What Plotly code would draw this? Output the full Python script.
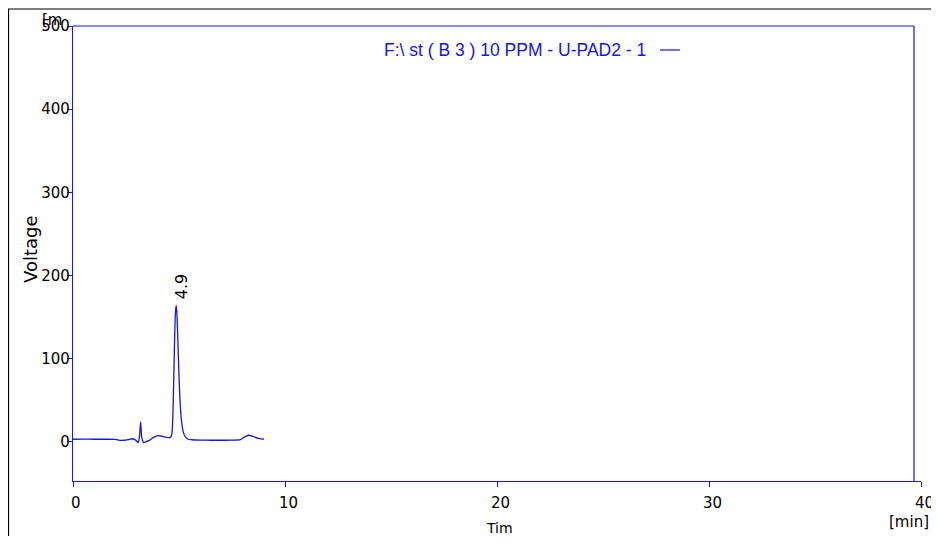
import plotly.graph_objects as go

# Chromatogram trace (time in min, voltage in mV)
time_min = [0.0, 0.5, 1.0, 1.5, 2.0, 2.2, 2.4, 2.6, 2.77, 2.9, 3.0, 3.08, 3.14, 3.19, 3.24,
            3.32, 3.45, 3.6, 3.8, 4.03, 4.2, 4.4, 4.58, 4.66, 4.72, 4.78, 4.83, 4.87, 4.91,
            4.96, 5.02, 5.1, 5.2, 5.3, 5.44, 5.6, 6.0, 6.5, 7.0, 7.5, 7.9, 8.1, 8.27, 8.5,
            8.7, 9.0]
voltage_mv = [3.2, 3.3, 3.2, 3.2, 3.0, 1.8, 2.0, 2.8, 3.8, 3.0, 1.2, -0.8, 8.0, 24.0, 6.0,
              -0.5, 0.3, 1.8, 5.5, 7.6, 6.8, 5.5, 5.2, 9.0, 40.0, 110.0, 155.0, 164.0, 150.0,
              110.0, 65.0, 30.0, 12.0, 6.0, 3.2, 2.6, 2.2, 2.0, 2.0, 2.2, 2.8, 6.0, 8.0, 6.5,
              4.5, 3.2]

peak_time = [4.87]
peak_value = [164.0]
peak_labels = ["4.9"]

x_ticks = [0, 10, 20, 30, 40]
y_ticks = [0, 100, 200, 300, 400, 500]
legend_text = "F:\\ st ( B 3 ) 10 PPM - U-PAD2 - 1"

BLUE = "#1414f0"
FONT = "DejaVu Sans"

# figure geometry (figure is placed at the default 8px page offset)
W, H = 923, 528
L, T, PW, PH = 65, 18, 848, 455


def px(xf):
    return (xf - L) / PW


def py(yf):
    return (T + PH - yf) / PH


fig = go.Figure()
fig.add_trace(go.Scatter(x=time_min, y=voltage_mv, mode="lines",
                         line=dict(color=BLUE, width=1.3, shape="spline", smoothing=0.6),
                         showlegend=False, hoverinfo="skip"))

for t, v, lab in zip(peak_time, peak_value, peak_labels):
    fig.add_annotation(x=t, y=v, text=lab, textangle=-90, showarrow=False,
                       xanchor="center", yanchor="bottom", xshift=6, yshift=4,
                       font=dict(family=FONT, size=16, color="black"))

# legend-like title with line marker on the right
fig.add_annotation(xref="paper", yref="paper", x=px(640), y=py(42), text=legend_text,
                   showarrow=False, xanchor="right", yanchor="middle",
                   font=dict(family="Liberation Sans", size=17.5, color=BLUE))
fig.add_shape(type="line", xref="paper", yref="paper", x0=px(652), x1=px(672),
              y0=py(42), y1=py(42), line=dict(color=BLUE, width=1.2))

# plot box (top and right edges)
fig.add_shape(type="line", xref="paper", yref="paper", x0=0, x1=px(906), y0=1, y1=1,
              line=dict(color=BLUE, width=1.2))
fig.add_shape(type="line", xref="paper", yref="paper", x0=px(906), x1=px(906),
              y0=0, y1=1, line=dict(color=BLUE, width=1.2))

# outer black frame (top and left)
fig.add_shape(type="line", xref="paper", yref="paper", x0=px(0), x1=px(W),
              y0=py(1), y1=py(1), line=dict(color="black", width=1.2))
fig.add_shape(type="line", xref="paper", yref="paper", x0=px(0.5), x1=px(0.5),
              y0=py(1), y1=py(H), line=dict(color="black", width=1.2))

# x tick labels drawn as annotations so none is dropped at the right edge
for v in x_ticks:
    fig.add_annotation(x=v, xref="x", yref="paper", y=py(495), text=str(v),
                       showarrow=False, xanchor="center", yanchor="middle", xshift=3,
                       font=dict(family=FONT, size=15, color="black"))

# unit labels
fig.add_annotation(xref="paper", yref="paper", x=px(32), y=py(12),
                   text="[m", showarrow=False, xanchor="left", yanchor="middle",
                   font=dict(family=FONT, size=15, color="black"))
fig.add_annotation(xref="paper", yref="paper", x=px(879), y=py(514),
                   text="[min]", showarrow=False, xanchor="left", yanchor="middle",
                   font=dict(family=FONT, size=15, color="black"))
fig.add_annotation(xref="paper", yref="paper", x=px(491), y=py(520),
                   text="Tim", showarrow=False, xanchor="center", yanchor="middle",
                   font=dict(family=FONT, size=14, color="black"))
fig.add_annotation(xref="paper", yref="paper", x=px(22), y=py(241),
                   text="Voltage", textangle=-90, showarrow=False,
                   xanchor="center", yanchor="middle",
                   font=dict(family=FONT, size=18, color="black"))

fig.update_xaxes(range=[0, 40], tickvals=x_ticks, showticklabels=False,
                 showline=True, linecolor=BLUE, linewidth=1.2, ticks="outside",
                 ticklen=5, tickcolor=BLUE, showgrid=False, zeroline=False)
fig.update_yaxes(range=[-47, 500], tickvals=y_ticks, ticktext=[str(v) for v in y_ticks],
                 showline=True, linecolor=BLUE, linewidth=1.2, ticks="outside",
                 ticklen=5, tickcolor=BLUE, showgrid=False, zeroline=False,
                 ticklabelstandoff=-6,
                 tickfont=dict(family=FONT, size=15, color="black"))

fig.update_layout(width=W, height=H, margin=dict(l=L, r=W - L - PW, t=T, b=H - T - PH),
                  paper_bgcolor="white", plot_bgcolor="white", showlegend=False)

fig.write_html("out.html", config={"displayModeBar": False})
